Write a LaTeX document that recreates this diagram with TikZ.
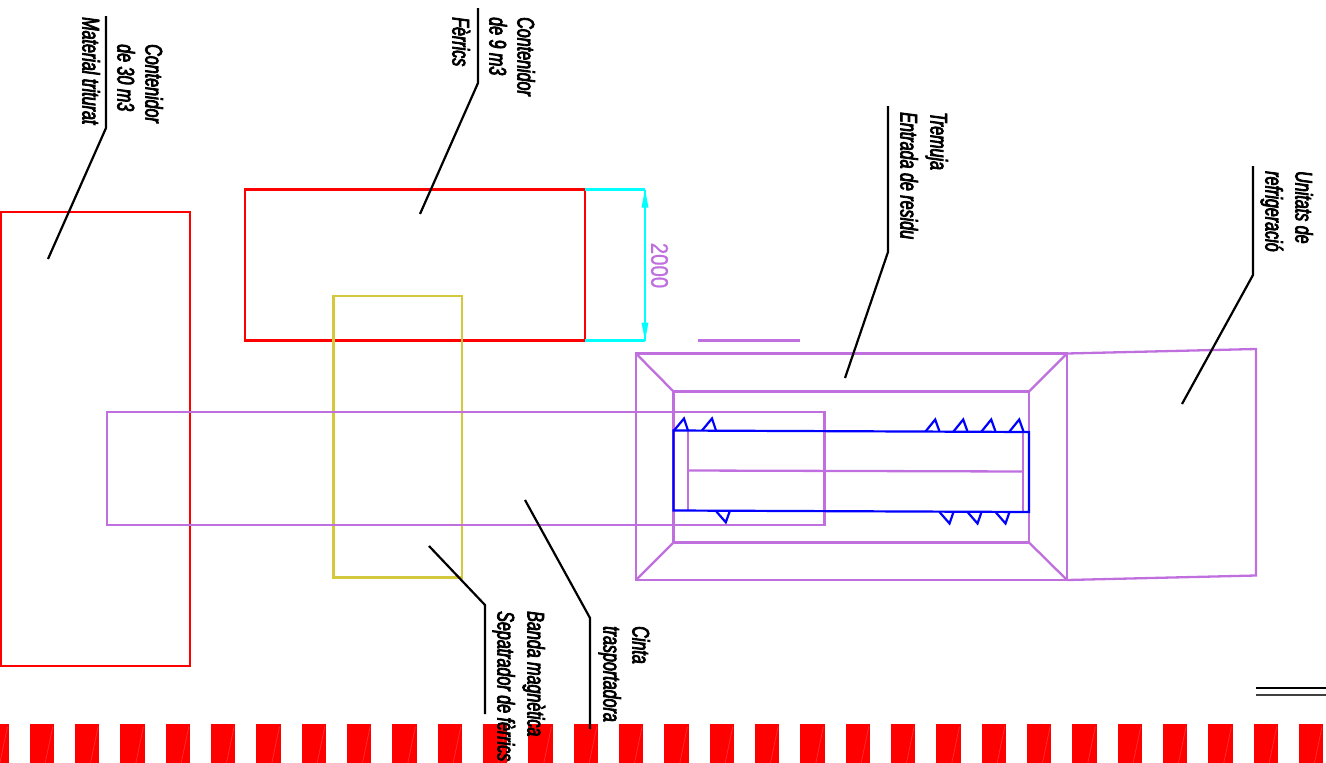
\documentclass[tikz,border=0pt]{standalone}
\usepackage{fontspec}
\setmainfont{Liberation Sans}
\newfontfamily\lblfont[FakeBold=3.2,FakeStretch=0.67]{Liberation Sans Italic}
\newfontfamily\dimfont[FakeBold=1]{Liberation Sans}
\definecolor{plum}{RGB}{192,112,222}
\definecolor{olive2}{RGB}{212,200,60}
\definecolor{cyanish}{RGB}{0,255,255}
\definecolor{redish}{RGB}{255,0,0}
\definecolor{blueish}{RGB}{0,0,255}
\newcommand{\lbl}[1]{{\lblfont #1}}
\tikzset{
  x=1pt,y=-1pt,
  redline/.style={draw=redish,line width=2.3pt},
  plumline/.style={draw=plum,line width=2.3pt,line join=miter},
  blueline/.style={draw=blueish,line width=2.2pt},
  leader/.style={draw=black,line width=2.2pt},
  cyanline/.style={draw=cyanish,line width=2.3pt},
  tag/.style={rotate=-90,anchor=west,inner sep=0pt,text height=13pt,text depth=0pt,font=\fontsize{24}{24}\selectfont},
  stripe/.style={fill=redish,draw=none},
}
\begin{document}
\begin{tikzpicture}
\useasboundingbox (0,0) rectangle (1326,763);
% stripes
\foreach \i in {-1,...,28}{
  \pgfmathsetmacro\sx{29.7+45.33*\i}
  \fill[stripe] (\sx,724) rectangle ++(24.3,39);
  \draw[draw=white,opacity=.2,line width=.6pt] (\sx+23,727) -- (\sx+15.5,763);
}
% containers
\draw[redline] (0.5,212) rectangle (190,666);
\draw[redline] (245,189.5) rectangle (585,340.5);
\draw[draw=olive2,line width=2.3pt] (333.5,296) rectangle (462,577.5);
% belt
\draw[plumline] (107,412) rectangle (824.5,525);
% hopper
\draw[plumline] (636,353.5) rectangle (1067,580);
\draw[plumline] (673.5,391.5) rectangle (1029,542.5);
\draw[plumline] (636,353.5) -- (673.5,391.5);
\draw[plumline] (636,580) -- (673.5,542.5);
\draw[plumline] (1067,353.5) -- (1029,391.5);
\draw[plumline] (1067,580) -- (1029,542.5);
\draw[plumline] (1067,353.5) -- (1256,349) -- (1256,575.5) -- (1067,580);
\draw[plumline] (698,340.5) -- (800,340.5);
\draw[plumline] (688,430.5) -- (688,510.5);
\draw[plumline] (688,470.5) -- (1023,471.5);
\draw[plumline] (1023,432) -- (1023,512);
% blue
\draw[blueline] (673.5,430.5) -- (1029,432) -- (1029,512) -- (673.5,510.5) -- cycle;
\foreach \a in {674,702}
  \draw[blueline,line join=miter] (\a,430.5) -- ++(10,-12) -- ++(4,12);
\foreach \a in {925.5,953.5,981.5,1009.5}
  \draw[blueline,line join=miter] (\a,431.5) -- ++(9.7,-12) -- ++(4.3,12);
\draw[blueline,line join=miter] (715.5,510.5) -- ++(10.3,11.8) -- ++(4.2,-11.8);
\foreach \a in {939.5,967.5,995.5}
  \draw[blueline,line join=miter] (\a,512) -- ++(10,11.5) -- ++(4,-11.5);
% dimension
\coordinate (dimA) at (645,189.5);
\coordinate (dimB) at (645,340.5);
\draw[cyanline] (585,189.5) -- (dimA);
\draw[cyanline] (585,340.5) -- (dimB);
\draw[cyanline] (dimA) -- (dimB);
\fill[cyanish] (dimA) -- ++(3.5,18) -- ++(-7,0) -- cycle;
\fill[cyanish] (dimB) -- ++(3.5,-18) -- ++(-7,0) -- cycle;
\node[rotate=-90,anchor=center,inner sep=0pt,text=plum,font=\fontsize{24}{24}\selectfont\dimfont] (dimtxt) at (659.5,265.5) {\scalebox{0.85}[1]{2000}};
% leaders
\draw[leader] (106,16) coordinate (a1) -- (106,128) coordinate (a2) -- (48,259) coordinate (a3);
\draw[leader] (478,8) coordinate (b1) -- (478,83) coordinate (b2) -- (420,214) coordinate (b3);
\draw[leader] (888,106) coordinate (c1) -- (888,252) coordinate (c2) -- (845,378) coordinate (c3);
\draw[leader] (1253,166) coordinate (d1) -- (1253,275) coordinate (d2) -- (1182,404) coordinate (d3);
\draw[leader] (590,729) coordinate (e1) -- (590,618) coordinate (e2) -- (525,500) coordinate (e3);
\draw[leader] (485,714) coordinate (f1) -- (485,605) coordinate (f2) -- (429,546) coordinate (f3);
% double line
\draw[draw=black,line width=2.2pt] (1256,688) -- (1326,688);
\draw[draw=black!75,line width=2.2pt] (1256,695) -- (1326,695);
% labels
\node[tag] (t1a) at (152,44) {\lbl{Contenidor}};
\node[tag] (t1b) at (124,44) {\lbl{de 30 m3}};
\node[tag] (t1c) at (89,17) {\lbl{Material triturat}};
\node[tag] (t2a) at (524,17) {\lbl{Contenidor}};
\node[tag] (t2b) at (496,17) {\lbl{de 9 m3}};
\node[tag] (t2c) at (459,17) {\lbl{Fèrrics}};
\node[tag] (t3a) at (937,112) {\lbl{Tremuja}};
\node[tag] (t3b) at (907,112) {\lbl{Entrada de residu}};
\node[tag] (t4a) at (1302,171) {\lbl{Unitats de}};
\node[tag] (t4b) at (1272,171) {\lbl{refrigeració}};
\node[tag] (t5a) at (639,626) {\lbl{Cinta}};
\node[tag] (t5b) at (610,626) {\lbl{trasportadora}};
\node[tag] (t6a) at (534,611) {\lbl{Banda magnètica}};
\node[tag] (t6b) at (504,611) {\lbl{Sepatrador de fèrrics}};
\end{tikzpicture}
\end{document}
